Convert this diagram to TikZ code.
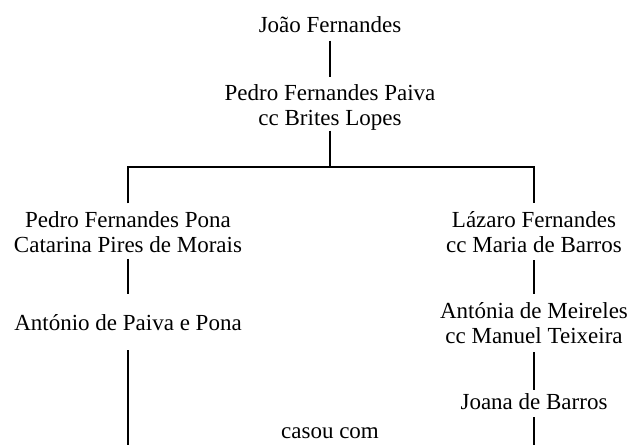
\documentclass[tikz,border=0pt]{standalone}
\usepackage{fontspec}
\setmainfont{Liberation Serif}
\begin{document}
\begin{tikzpicture}[x=1pt,y=-1pt,
  person/.style={inner sep=0pt, outer sep=0pt, align=center, font=\fontsize{23}{25.5}\selectfont},
  link/.style={line width=2pt, line cap=butt, line join=miter}]
\useasboundingbox (0,0) rectangle (630,445);
% nodes
\node[person, anchor=base]  (joao)    at (330,32)    {João Fernandes};
\node[person, anchor=north] (paiva)   at (330,84.3)  {Pedro Fernandes Paiva\\cc Brites Lopes};
\node[person, anchor=north] (ppona)   at (128,211.3) {Pedro Fernandes Pona\\Catarina Pires de Morais};
\node[person, anchor=north] (lazaro)  at (534,211.3) {Lázaro Fernandes\\cc Maria de Barros};
\node[person, anchor=base]  (antonio) at (128,330)   {António de Paiva e Pona};
\node[person, anchor=north] (antonia) at (534,302.3) {Antónia de Meireles\\cc Manuel Teixeira};
\node[person, anchor=base]  (joana)   at (534,409)   {Joana de Barros};
\node[person, anchor=base]  (casou)   at (330,438)   {casou com};
\coordinate (bar) at (330,167);
\coordinate (bl) at (128,446);
\coordinate (br) at (534,446);
% connectors
\draw[link, shorten <=8.5pt, shorten >=7pt] (joao.south) -- (paiva.north);
\draw[link] (paiva.south) -- (bar);
\draw[link, shorten <=8pt, shorten >=8pt] (ppona.north) |- (bar) -| (lazaro.north);
\draw[link, shorten <=6pt, shorten >=20pt] (ppona.south) -- (antonio.north);
\draw[link, shorten <=20pt] (antonio.south) -- (bl);
\draw[link, shorten <=7pt, shorten >=8pt] (lazaro.south) -- (antonia.north);
\draw[link, shorten <=8pt, shorten >=3pt] (antonia.south) -- (joana.north);
\draw[link, shorten <=8pt] (joana.south) -- (br);
\end{tikzpicture}
\end{document}
